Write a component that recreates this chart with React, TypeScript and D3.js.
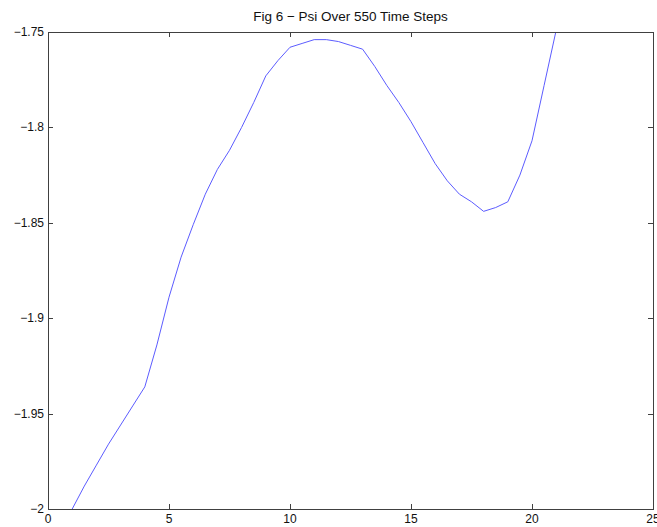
import { useEffect, useRef } from 'react';
import * as d3 from 'd3';

// time step (x) and psi value (y)
const steps = [1, 1.5, 2, 2.5, 3, 3.5, 4, 4.5, 5, 5.5, 6, 6.5, 7, 7.5, 8, 8.5, 9, 9.5, 10, 10.5, 11, 11.5, 12, 12.5, 13, 13.5, 14, 14.5, 15, 15.5, 16, 16.5, 17, 17.5, 18, 18.5, 19, 19.5, 20, 20.5, 21, 21.5];
const psi = [-2.0, -1.988, -1.977, -1.966, -1.956, -1.946, -1.936, -1.914, -1.889, -1.868, -1.851, -1.835, -1.822, -1.812, -1.8, -1.787, -1.773, -1.765, -1.758, -1.756, -1.754, -1.754, -1.755, -1.757, -1.759, -1.768, -1.778, -1.787, -1.797, -1.808, -1.819, -1.828, -1.835, -1.839, -1.844, -1.842, -1.839, -1.825, -1.807, -1.778, -1.749, -1.72];

const xTicks = [0, 5, 10, 15, 20, 25];
const yTicks = [-2, -1.95, -1.9, -1.85, -1.8, -1.75];
const yTickLabels = ['\u22122', '\u22121.95', '\u22121.9', '\u22121.85', '\u22121.8', '\u22121.75'];
const title = 'Fig 6 \u2212 Psi Over 550 Time Steps';

const W = 657;
const H = 527;
const m = { left: 48, right: 4, top: 32, bottom: 18 };

export default function App() {
  const svgRef = useRef<SVGSVGElement>(null);

  useEffect(() => {
    if (!svgRef.current) return;
    const svg = d3.select(svgRef.current);
    svg.selectAll('*').remove();

    const x = d3.scaleLinear().domain([0, 25]).range([m.left, W - m.right]);
    const y = d3.scaleLinear().domain([-2, -1.75]).range([H - m.bottom, m.top]);
    const font = 'Arial, "Liberation Sans", Helvetica, sans-serif';
    const axisColor = '#404040';

    svg.append('rect').attr('width', W).attr('height', H).attr('fill', '#fff');

    svg.append('defs').append('clipPath').attr('id', 'plotclip')
      .append('rect')
      .attr('x', x(0)).attr('y', y(-1.75))
      .attr('width', x(25) - x(0)).attr('height', y(-2) - y(-1.75));

    const pts = steps.map((s, i) => [s, psi[i]] as [number, number]);
    const line = d3.line<[number, number]>().x((d) => x(d[0])).y((d) => y(d[1]));

    svg.append('path')
      .attr('d', line(pts))
      .attr('clip-path', 'url(#plotclip)')
      .attr('fill', 'none')
      .attr('stroke', '#5c5cff')
      .attr('stroke-width', 1);

    // box
    svg.append('rect')
      .attr('x', x(0) + 0.5).attr('y', y(-1.75) + 0.5)
      .attr('width', x(25) - x(0)).attr('height', y(-2) - y(-1.75))
      .attr('fill', 'none').attr('stroke', axisColor).attr('stroke-width', 1);

    const tickLen = 5;
    const g = svg.append('g').attr('stroke', axisColor).attr('stroke-width', 1);
    xTicks.forEach((t) => {
      const px = Math.round(x(t)) + 0.5;
      g.append('line').attr('x1', px).attr('x2', px).attr('y1', y(-2)).attr('y2', y(-2) - tickLen);
      g.append('line').attr('x1', px).attr('x2', px).attr('y1', y(-1.75)).attr('y2', y(-1.75) + tickLen);
    });
    yTicks.forEach((t) => {
      const py = Math.round(y(t)) + 0.5;
      g.append('line').attr('x1', x(0)).attr('x2', x(0) + tickLen).attr('y1', py).attr('y2', py);
      g.append('line').attr('x1', x(25)).attr('x2', x(25) - tickLen).attr('y1', py).attr('y2', py);
    });

    svg.append('g').selectAll('text')
      .data(xTicks)
      .join('text')
      .attr('x', (d) => x(d))
      .attr('y', y(-2) + 14)
      .attr('text-anchor', 'middle')
      .attr('font-family', font).attr('font-size', 12).attr('fill', '#111')
      .text((d) => String(d));

    svg.append('g').selectAll('text')
      .data(yTicks)
      .join('text')
      .attr('x', x(0) - 4)
      .attr('y', (d) => y(d) + 4)
      .attr('text-anchor', 'end')
      .attr('font-family', font).attr('font-size', 12).attr('fill', '#111')
      .text((_, i) => yTickLabels[i]);

    svg.append('text')
      .attr('x', (x(0) + x(25)) / 2)
      .attr('y', 21)
      .attr('text-anchor', 'middle')
      .attr('font-family', font).attr('font-size', 13.5).attr('fill', '#111')
      .text(title);
  }, []);

  return <svg ref={svgRef} width={W} height={H} style={{ position: 'absolute', left: 0, top: 0 }} />;
}
